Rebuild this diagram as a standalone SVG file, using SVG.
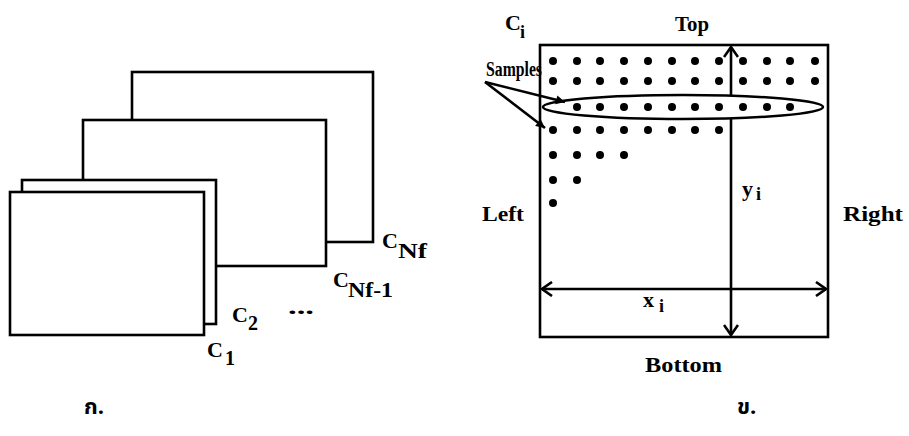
<svg xmlns="http://www.w3.org/2000/svg" width="909" height="436" viewBox="0 0 909 436">
<defs>
<style>
.fr{fill:#fff;stroke:#000;stroke-width:2.6}
.ln{fill:none;stroke:#000;stroke-width:2.6}
.t{font-family:"Liberation Serif","Times New Roman",serif;font-weight:bold;fill:#000}
.dot{fill:#000}
.th{font-family:"Noto Sans Thai","Loma","Garuda","Noto Sans","DejaVu Sans",sans-serif;font-weight:bold;fill:#000}
</style>
<marker id="chev" viewBox="-12 -8 14 16" markerWidth="14" markerHeight="16" refX="0" refY="0" orient="auto" markerUnits="userSpaceOnUse">
<path d="M-10,-7 L0,0 L-10,7" fill="none" stroke="#000" stroke-width="2.6"/>
</marker>
<marker id="tri" viewBox="-10 -5 11 10" markerWidth="11" markerHeight="10" refX="0" refY="0" orient="auto" markerUnits="userSpaceOnUse">
<path d="M-9,-4.5 L0,0 L-9,4.5 Z" fill="#000"/>
</marker>
</defs>
<rect width="909" height="436" fill="#fff"/>

<g id="frame-Nf"><rect class="fr" x="132" y="72" width="241" height="170"/></g>
<g id="frame-Nf-1"><rect class="fr" x="83" y="120" width="243" height="146"/></g>
<g id="frame-2"><rect class="fr" x="22" y="180" width="194" height="144"/></g>
<g id="frame-1"><rect class="fr" x="10" y="192" width="194" height="143"/></g>

<g id="labels-left">
<text class="t" x="382" y="248" font-size="22">C</text><text class="t" x="398" y="258" font-size="20" textLength="29" lengthAdjust="spacingAndGlyphs">Nf</text>
<text class="t" x="333" y="287" font-size="22">C</text><text class="t" x="348" y="297" font-size="20" textLength="45" lengthAdjust="spacingAndGlyphs">Nf-1</text>
<text class="t" x="232" y="322" font-size="22">C</text><text class="t" x="248" y="330" font-size="20">2</text>
<text class="t" x="288" y="314" font-size="20" textLength="26" lengthAdjust="spacingAndGlyphs">...</text>
<text class="t" x="207" y="357" font-size="22">C</text><text class="t" x="225" y="365" font-size="20">1</text>
</g>

<g id="frame-Ci"><rect class="fr" x="540" y="45" width="288" height="292"/></g>

<g id="connectors">
<line class="ln" x1="731" y1="191" x2="731" y2="47" marker-end="url(#chev)"/>
<line class="ln" x1="731" y1="191" x2="731" y2="335" marker-end="url(#chev)"/>
<line class="ln" x1="685" y1="289" x2="542" y2="289" marker-end="url(#chev)"/>
<line class="ln" x1="685" y1="289" x2="826" y2="289" marker-end="url(#chev)"/>
</g>

<g id="samples-region">
<ellipse class="fr" cx="683" cy="107" rx="140" ry="12"/>
</g>

<g id="dots">
<g class="dot">
<circle cx="553" cy="61" r="4"/><circle cx="577" cy="61" r="4"/><circle cx="600" cy="61" r="4"/><circle cx="624" cy="61" r="4"/><circle cx="648" cy="61" r="4"/><circle cx="672" cy="61" r="4"/><circle cx="695" cy="61" r="4"/><circle cx="719" cy="61" r="4"/><circle cx="743" cy="61" r="4"/><circle cx="767" cy="61" r="4"/><circle cx="790" cy="61" r="4"/><circle cx="815" cy="61" r="4"/>
<circle cx="553" cy="81" r="4"/><circle cx="577" cy="81" r="4"/><circle cx="600" cy="81" r="4"/><circle cx="624" cy="81" r="4"/><circle cx="648" cy="81" r="4"/><circle cx="672" cy="81" r="4"/><circle cx="695" cy="81" r="4"/><circle cx="719" cy="81" r="4"/><circle cx="743" cy="81" r="4"/><circle cx="767" cy="81" r="4"/><circle cx="790" cy="81" r="4"/><circle cx="815" cy="81" r="4"/>
<circle cx="577" cy="107" r="4"/><circle cx="600" cy="107" r="4"/><circle cx="624" cy="107" r="4"/><circle cx="648" cy="107" r="4"/><circle cx="672" cy="107" r="4"/><circle cx="695" cy="107" r="4"/><circle cx="719" cy="107" r="4"/><circle cx="743" cy="107" r="4"/><circle cx="767" cy="107" r="4"/><circle cx="790" cy="107" r="4"/>
<circle cx="553" cy="130" r="4"/><circle cx="577" cy="130" r="4"/><circle cx="600" cy="130" r="4"/><circle cx="624" cy="130" r="4"/><circle cx="648" cy="130" r="4"/><circle cx="672" cy="130" r="4"/><circle cx="695" cy="130" r="4"/><circle cx="719" cy="130" r="4"/>
<circle cx="553" cy="155" r="4"/><circle cx="577" cy="155" r="4"/><circle cx="600" cy="155" r="4"/><circle cx="624" cy="155" r="4"/>
<circle cx="553" cy="180" r="4"/><circle cx="577" cy="180" r="4"/>
<circle cx="553" cy="203" r="4"/>
</g>
</g>

<g id="samples-arrows">
<line class="ln" x1="485" y1="82" x2="565" y2="102" marker-end="url(#tri)"/>
<line class="ln" x1="485" y1="82" x2="545" y2="128" marker-end="url(#tri)"/>
</g>

<g id="labels-right">
<text class="t" x="505" y="30" font-size="22">C</text><text class="t" x="520" y="38" font-size="18">i</text>
<text class="t" x="675" y="31" font-size="20" textLength="34" lengthAdjust="spacingAndGlyphs">Top</text>
<text class="t" x="486" y="76" font-size="20" textLength="56" lengthAdjust="spacingAndGlyphs">Samples</text>
<text class="t" x="482" y="221" font-size="20" textLength="42" lengthAdjust="spacingAndGlyphs">Left</text>
<text class="t" x="843" y="221" font-size="20" textLength="60" lengthAdjust="spacingAndGlyphs">Right</text>
<text class="t" x="742" y="196" font-size="22">y</text><text class="t" x="756" y="200" font-size="18">i</text>
<text class="t" x="643" y="307" font-size="22">x</text><text class="t" x="659" y="312" font-size="18">i</text>
<text class="t" x="645" y="372" font-size="20" textLength="77" lengthAdjust="spacingAndGlyphs">Bottom</text>
</g>

<g id="captions">
<text class="th" x="84" y="414" font-size="22">ก.</text>
<text class="th" x="737" y="414" font-size="22">ข.</text>
</g>
</svg>
